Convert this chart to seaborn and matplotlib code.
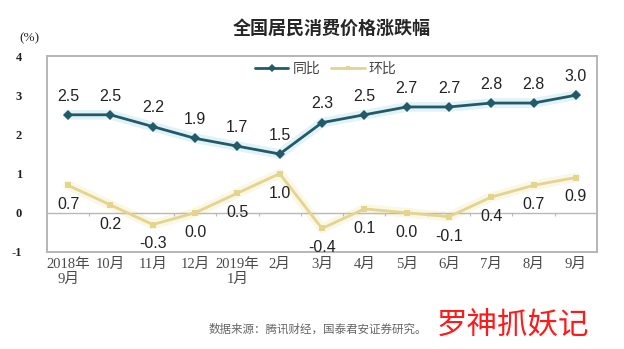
import matplotlib
matplotlib.use("Agg")
import matplotlib.pyplot as plt
import seaborn as sns
import pandas as pd
from matplotlib.lines import Line2D

# CPI change, monthly, Sep 2018 - Sep 2019
months = ["2018年\n9月", "10月", "11月", "12月", "2019年\n1月", "2月", "3月",
          "4月", "5月", "6月", "7月", "8月", "9月"]
yoy = [2.5, 2.5, 2.2, 1.9, 1.7, 1.5, 2.3, 2.5, 2.7, 2.7, 2.8, 2.8, 3.0]
mom = [0.7, 0.2, -0.3, 0.0, 0.5, 1.0, -0.4, 0.1, 0.0, -0.1, 0.4, 0.7, 0.9]
yticks = [-1, 0, 1, 2, 3, 4]

sns.set_theme(style="white")
plt.rcParams["font.family"] = ["Noto Sans CJK SC", "DejaVu Sans"]

df = pd.DataFrame({"pos": range(len(months)), "同比": yoy, "环比": mom})

fig = plt.figure(figsize=(6.24, 3.49), dpi=100)
ax = fig.add_axes([0.0753, 0.278, 0.8814, 0.5615])

C_YOY = "#235a69"
C_MOM = "#e3d48e"

# soft halo under each line
ax.plot(df["pos"], df["同比"], color="#bfe6ef", lw=7, alpha=0.45,
        solid_capstyle="round", zorder=1)
ax.plot(df["pos"], df["环比"], color="#f6efc8", lw=7, alpha=0.45,
        solid_capstyle="round", zorder=1)

sns.lineplot(data=df, x="pos", y="同比", ax=ax, color=C_YOY, lw=2.0,
             marker="D", markersize=5, markeredgewidth=0, zorder=3)
sns.lineplot(data=df, x="pos", y="环比", ax=ax, color=C_MOM, lw=2.0,
             marker="s", markersize=4, markeredgewidth=0, zorder=3)

label_font = dict(family=["Liberation Sans", "DejaVu Sans"], size=11.5,
                  color="#222222")
for x, v in zip(df["pos"], df["同比"]):
    ax.annotate(f"{v:.1f}", (x, v), xytext=(0, 13.5), textcoords="offset points",
                ha="center", va="center", **label_font)
for x, v in zip(df["pos"], df["环比"]):
    ax.annotate(f"{v:.1f}", (x, v), xytext=(0, -14), textcoords="offset points",
                ha="center", va="center", **label_font)

# zero line with small boundary ticks
ax.axhline(0, color="#b8b8b8", lw=1.0, zorder=2)
ax.vlines([p + 0.5 for p in df["pos"][:-1]], -0.07, 0, color="#b8b8b8",
          lw=0.8, zorder=2)

ax.set_xlim(-0.5, len(months) - 0.5)
ax.set_ylim(-1, 4)
ax.set_xticks(df["pos"])
ax.set_xticklabels(months, fontsize=10.5, color="#4a4a4a", linespacing=1.25,
                   family=["Liberation Serif", "Noto Sans CJK SC"])
ax.set_yticks(yticks)
ax.set_yticklabels([str(t) for t in yticks],
                   family=["Liberation Serif", "DejaVu Serif"], fontsize=9,
                   fontweight="bold", color="#222222")
ax.tick_params(axis="x", length=0, pad=4)
ax.tick_params(axis="y", length=3, direction="in", color="#cccccc", pad=18)
ax.set_xlabel("")
ax.set_ylabel("")
for s in ax.spines.values():
    s.set_color("#b5b5b5")
    s.set_linewidth(1.4)

handles = [
    Line2D([], [], color=C_YOY, lw=2.0, marker="D", markersize=4, markeredgewidth=0),
    Line2D([], [], color=C_MOM, lw=2.0, marker="s", markersize=3, markeredgewidth=0),
]
ax.legend(handles, ["同比", "环比"], loc="center", bbox_to_anchor=(0.507, 0.934),
          ncol=2, frameon=False, fontsize=10, handlelength=2.4,
          columnspacing=0.8, handletextpad=0.3, labelcolor="#444444")

fig.text(0.532, 0.92, "全国居民消费价格涨跌幅", ha="center", va="center",
         fontsize=13, fontweight="bold", color="#262626")
fig.text(0.047, 0.891, "(%)", ha="center", va="center", fontsize=9.5,
         family=["Liberation Serif", "DejaVu Serif"], color="#222222")
fig.text(0.685, 0.057, "数据来源：腾讯财经，国泰君安证券研究。", ha="right",
         va="center", fontsize=8.3, color="#666666")
fig.text(0.7, 0.069, "罗神抓妖记", ha="left", va="center", fontsize=22,
         color="#ff1a1a")

fig.savefig("out.png", dpi=100, facecolor="white")
